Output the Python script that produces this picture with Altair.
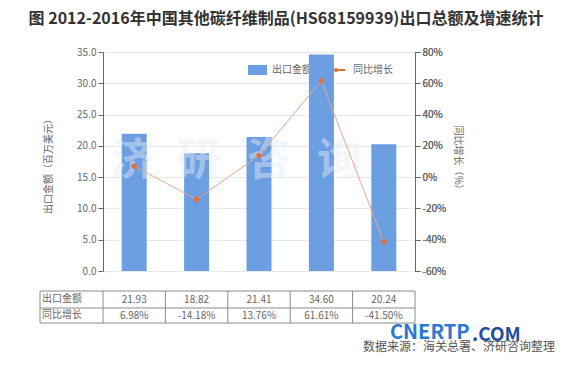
import altair as alt
import pandas as pd

years = ["2012年", "2013年", "2014年", "2015年", "2016年"]
export_total = [21.93, 18.82, 21.41, 34.60, 20.24]
growth = [6.98, -14.18, 13.76, 61.61, -41.50]
left_ticks = [0, 5, 10, 15, 20, 25, 30, 35]
right_ticks = [-60, -40, -20, 0, 20, 40, 60, 80]

FONT = "Noto Sans CJK SC"
BAR_C = "#6c9ee2"
LINE_C = "#e8a68a"
DOT_C = "#e0703c"
GREY = "#666666"

df = pd.DataFrame({"year": years, "value": export_total, "growth": growth})
df["value_txt"] = [f"{v:.2f}" for v in export_total]
df["growth_txt"] = [f"{g:.2f}%" for g in growth]

one = alt.Data(values=[{"a": 1}])

x_enc = alt.X("year:N", sort=years,
              scale=alt.Scale(paddingInner=0, paddingOuter=0),
              axis=alt.Axis(title=None, labelAngle=0, labelColor=GREY, labelFontSize=10,
                            labelFont=FONT, domainColor=GREY, tickColor=GREY, tickSize=4,
                            labelPadding=3, grid=False))

def txt(x, y, s, size=10, color=GREY, weight="normal", align="center", angle=0, opacity=1.0, baseline="middle"):
    kw = dict(font=FONT, fontSize=size, color=color, fontWeight=weight, align=align,
              baseline=baseline, opacity=opacity)
    if angle:
        kw["angle"] = angle
    return alt.Chart(one).mark_text(**kw).encode(x=alt.value(x), y=alt.value(y), text=alt.value(s))

# legend (drawn under bars)
legend_rect = alt.Chart(one).mark_rect(color=BAR_C).encode(
    x=alt.value(145), x2=alt.value(164), y=alt.value(13), y2=alt.value(23))
legend_line = alt.Chart(one).mark_rule(color=DOT_C, strokeWidth=2).encode(
    x=alt.value(224), x2=alt.value(242), y=alt.value(18))
legend_dot = alt.Chart(one).mark_point(filled=True, color=DOT_C, size=18, opacity=1).encode(
    x=alt.value(233), y=alt.value(18))
legend_t1 = txt(169, 18, "出口金额", size=10, align="left")
legend_t2 = txt(250, 18, "同比增长", size=10, align="left")

bars = alt.Chart(df).mark_bar(color=BAR_C, size=25).encode(
    x=x_enc,
    y=alt.Y("value:Q", scale=alt.Scale(domain=[0, 35], nice=False),
            axis=alt.Axis(title=None, values=left_ticks, format=".1f", labelColor=GREY,
                          labelFontSize=10, labelFont=FONT, domainColor=GREY, tickColor=GREY,
                          tickSize=5, grid=True, gridColor="#e8e8e8", labelPadding=2)))

# faint watermark
wm = alt.layer(*[txt(xp, 110, ch, size=44, color="#e6edf8", weight="bold", opacity=0.45)
                 for xp, ch in zip([30, 96, 166, 236], ["济", "研", "咨", "询"])])

gy = alt.Y("growth:Q", scale=alt.Scale(domain=[-60, 80], nice=False),
           axis=alt.Axis(title=None, orient="right", values=right_ticks,
                         labelExpr="datum.value + '%'", labelColor=GREY, labelFontSize=10,
                         labelFont=FONT, domainColor=GREY, tickColor=GREY, tickSize=5,
                         grid=False, labelPadding=2))
line = alt.Chart(df).mark_line(color=LINE_C, strokeWidth=1).encode(
    x=alt.X("year:N", sort=years, axis=None), y=gy)
pts = alt.Chart(df).mark_point(filled=True, color=DOT_C, size=30, opacity=1).encode(
    x=alt.X("year:N", sort=years, axis=None), y=gy)

# table
TB_TOP, TB_MID, TB_BOT, TB_LEFT, TB_RIGHT = 239, 256, 271, -63, 312
BORDER = "#8a8a8a"
hrules = alt.layer(*[alt.Chart(one).mark_rule(color=BORDER, strokeWidth=1).encode(
    x=alt.value(TB_LEFT), x2=alt.value(TB_RIGHT), y=alt.value(yy)) for yy in [TB_TOP, TB_MID, TB_BOT]])
vr_edges = alt.layer(*[alt.Chart(one).mark_rule(color=BORDER, strokeWidth=1).encode(
    x=alt.value(xx), y=alt.value(TB_TOP), y2=alt.value(TB_BOT)) for xx in [TB_LEFT, TB_RIGHT]])
vr_cols = alt.Chart(df).mark_rule(color=BORDER, strokeWidth=1).encode(
    x=alt.X("year:N", sort=years, bandPosition=0, axis=None),
    y=alt.value(TB_TOP), y2=alt.value(TB_BOT))
row1 = alt.Chart(df).mark_text(font=FONT, fontSize=10, color=GREY).encode(
    x=alt.X("year:N", sort=years, axis=None), y=alt.value(248), text="value_txt:N")
row2 = alt.Chart(df).mark_text(font=FONT, fontSize=10, color=GREY).encode(
    x=alt.X("year:N", sort=years, axis=None), y=alt.value(264), text="growth_txt:N")
rl1 = txt(-61, 247, "出口金额", align="left")
rl2 = txt(-61, 263, "同比增长", align="left")

# titles and texts
title = txt(183, -33, "图 2012-2016年中国其他碳纤维制品(HS68159939)出口总额及增速统计",
            size=16, color="#333333", weight="bold")
ltitle = txt(-54, 112, "出口金额（百万美元）", size=10, angle=270)
rtitle = txt(355, 108, "同比增长（%）", size=10, angle=90)
src = txt(452, 295, "数据来源：海关总署、济研咨询整理", size=12, color="#555555", align="right")
logo1 = txt(287, 281, "CNERTP", size=20, color="#2a78d2", weight="bold", align="left")
logo2 = txt(369, 283, ".COM", size=19, color="#1d4f9e", weight="bold", align="left")
bottom_line = alt.Chart(one).mark_rule(color="#9a9a9a", strokeWidth=1).encode(
    x=alt.value(-95), x2=alt.value(452), y=alt.value(307))

base = alt.layer(legend_rect, legend_t1, legend_line, legend_dot, legend_t2, bars, wm)
chart = alt.layer(
    base, line, pts, hrules, vr_edges, vr_cols, row1, row2, rl1, rl2,
    title, ltitle, rtitle, src, logo1, logo2, bottom_line
).resolve_scale(y="independent").properties(
    width=312, height=219,
    autosize=alt.AutoSizeParams(type="none"),
    padding={"left": 95, "top": 44, "right": 154, "bottom": 86},
    background="white"
).configure_view(stroke=None)

chart.save("out.html", embed_options={"renderer": "svg", "actions": False})
